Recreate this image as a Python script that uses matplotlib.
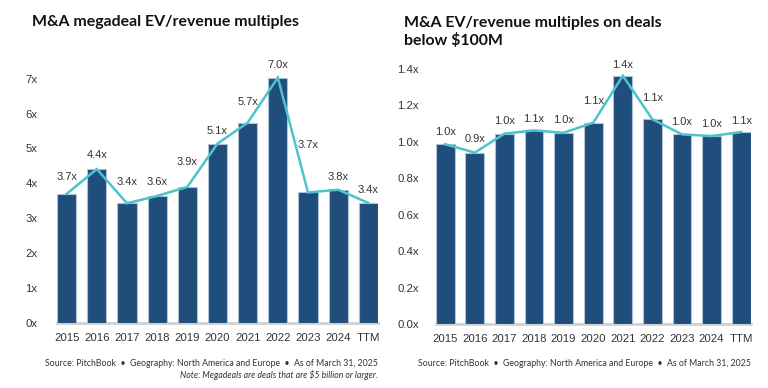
import matplotlib
matplotlib.use("Agg")
import matplotlib.pyplot as plt
from matplotlib import font_manager

categories = ["2015", "2016", "2017", "2018", "2019", "2020", "2021", "2022", "2023", "2024", "TTM"]
mega_values = [3.70, 4.41, 3.43, 3.64, 3.90, 5.14, 5.74, 7.03, 3.74, 3.82, 3.44]
small_values = [0.986, 0.94, 1.044, 1.062, 1.049, 1.104, 1.362, 1.123, 1.04, 1.031, 1.053]
mega_ticks = [0, 1, 2, 3, 4, 5, 6, 7]
mega_tick_labels = ["0x", "1x", "2x", "3x", "4x", "5x", "6x", "7x"]
small_ticks = [0.0, 0.2, 0.4, 0.6, 0.8, 1.0, 1.2, 1.4]
small_tick_labels = ["0.0x", "0.2x", "0.4x", "0.6x", "0.8x", "1.0x", "1.2x", "1.4x"]

# label offsets above bar tops (points) - layout only
mega_label_off = [12, 10, 15, 10, 18, 9, 15, 9, 34, 9, 9]
small_label_off = [9, 10, 9, 8, 9, 16, 8, 15, 9, 9, 8]

avail = {f.name for f in font_manager.fontManager.ttflist}
narrow = "Liberation Sans Narrow" if "Liberation Sans Narrow" in avail else "Liberation Sans"
title_font = "Lato"

BAR = "#1F4E7D"
LINE = "#4DC3CC"
EDGE = "#AFC2D6"
W, H = 768, 388
fig = plt.figure(figsize=(W / 100, H / 100), dpi=100)


def px_axes(left, right, bottom, top):
    return fig.add_axes([left / W, 1 - bottom / H, (right - left) / W, (bottom - top) / H])


def draw(ax, values, ticks, tick_labels, ymax, offs):
    x = list(range(len(values)))
    ax.bar(x, values, width=0.64, color=BAR, edgecolor=EDGE, linewidth=0.8, zorder=2)
    ax.plot(x, values, color=LINE, linewidth=1.8, zorder=3, solid_joinstyle="miter")
    for xi, v, o in zip(x, values, offs):
        ax.annotate(f"{v:.1f}x", (xi, v), xytext=(0, o), textcoords="offset points",
                    ha="center", va="center", fontsize=8, color="#333333", family=narrow, zorder=4)
    ax.set_xlim(-0.32, len(values) - 1 + 0.32)
    ax.set_ylim(0, ymax)
    ax.set_xticks(x)
    ax.set_xticklabels(categories, family=narrow, fontsize=8.2, color="#333333")
    ax.set_yticks(ticks)
    ax.set_yticklabels(tick_labels, family=narrow, fontsize=8.2, color="#333333")
    ax.tick_params(axis="both", length=0)
    ax.tick_params(axis="x", pad=7)
    for s in ["top", "right", "left"]:
        ax.spines[s].set_visible(False)
    ax.spines["bottom"].set_color("#D0D0D0")
    ax.spines["bottom"].set_linewidth(2)
    ax.spines["bottom"].set_zorder(1)


# left chart: 0 at y=323, 34.9 px/unit
ymax1 = 8.0
ax1 = px_axes(57, 378, 323, 323 - ymax1 * 34.9)
draw(ax1, mega_values, mega_ticks, mega_tick_labels, ymax1, mega_label_off)
ax1.tick_params(axis="y", pad=14)

ymax2 = 1.5
ax2 = px_axes(435.7, 750.7, 324, 324 - ymax2 * 182.3)
draw(ax2, small_values, small_ticks, small_tick_labels, ymax2, small_label_off)
ax2.tick_params(axis="y", pad=12)

fig.text(32 / W, 1 - 22 / H, "M&A megadeal EV/revenue multiples", fontsize=11.4,
         fontweight="bold", family=title_font, color="#111111", va="center", ha="left")
fig.text(404 / W, 1 - 32 / H, "M&A EV/revenue multiples on deals\nbelow $100M", fontsize=11.4,
         fontweight="bold", family=title_font, color="#111111", va="center", ha="left",
         linespacing=1.25)

src = "Source: PitchBook  \u2022  Geography: North America and Europe  \u2022  As of March 31, 2025"
fig.text(378 / W, 1 - 363 / H, src, fontsize=6.3, family="Lato", color="#333333",
         ha="right", va="center")
fig.text(378 / W, 1 - 375.5 / H, "Note: Megadeals are deals that are $5 billion or larger.",
         fontsize=6.3, family="Lato", style="italic", color="#333333", ha="right", va="center")
fig.text(751 / W, 1 - 363 / H, src, fontsize=6.3, family="Lato", color="#333333",
         ha="right", va="center")

fig.savefig("out.png", dpi=100)
